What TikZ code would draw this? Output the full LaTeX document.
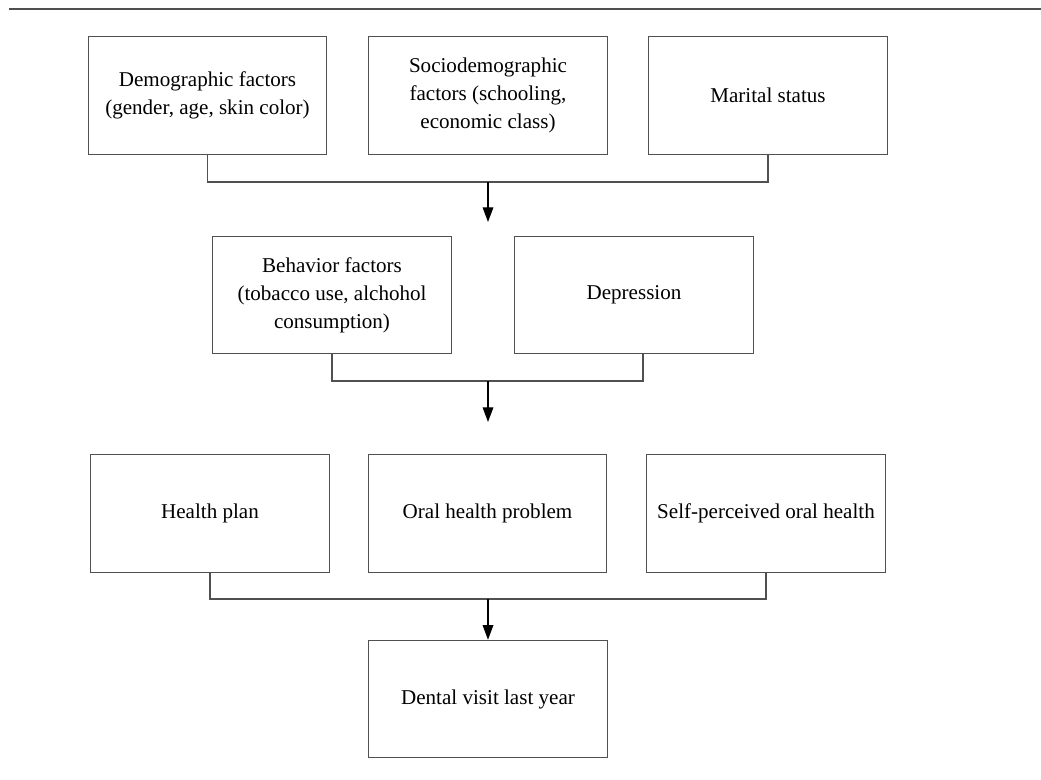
\documentclass[tikz,border=0pt]{standalone}
\usepackage{fontspec}
\setmainfont{Liberation Serif}
\usepackage{xcolor}
\definecolor{line-gray}{RGB}{80,80,80}
\usetikzlibrary{arrows.meta}

\begin{document}
\begin{tikzpicture}[x=0.75pt,y=-0.75pt,>={Triangle[length=11pt,width=8pt]},
	box/.style={draw=line-gray,line width=0.9pt,minimum width=179pt,minimum height=88pt,
		inner sep=0pt,align=center,font=\fontsize{15.8}{21}\selectfont}]
	\useasboundingbox (0,0) rectangle (1041,780);
	\draw[line-gray,line width=1pt] (9,9)--(1041,9);

	% first row
	\node[box] (demo) at (207.5,95.5) {Demographic factors\\(gender, age, skin color)};
	\node[box] (socio) at (488,95.5) {Sociodemographic\\factors (schooling,\\economic class)};
	\node[box] (marital) at (768,95.5) {Marital status};
	% second row
	\node[box] (behav) at (332,295) {Behavior factors\\(tobacco use, alchohol\\consumption)};
	\node[box] (depr) at (634,295) {Depression};
	% third row
	\node[box] (plan) at (210,513.5) {Health plan};
	\node[box] (oral) at (487.5,513.5) {Oral health problem};
	\node[box] (self) at (766,513.5) {Self-perceived oral health};
	% outcome
	\node[box] (visit) at (488,699) {Dental visit last year};

	\coordinate (j1) at (488,182);
	\coordinate (t1) at (488,222);
	\coordinate (j2) at (488,381);
	\coordinate (t2) at (488,422);
	\coordinate (j3) at (488,599);

	\draw[line-gray,line width=0.9pt] (demo.south) |- (j1) -| (marital.south);
	\draw[->,line width=0.9pt] (j1)--(t1);
	\draw[line-gray,line width=0.9pt] (behav.south) |- (j2) -| ([xshift=6.75pt]depr.south);
	\draw[->,line width=0.9pt] (j2)--(t2);
	\draw[line-gray,line width=0.9pt] (plan.south) |- (j3) -| (self.south);
	\draw[->,line width=0.9pt] (j3)--(visit.north);
\end{tikzpicture}
\end{document}
